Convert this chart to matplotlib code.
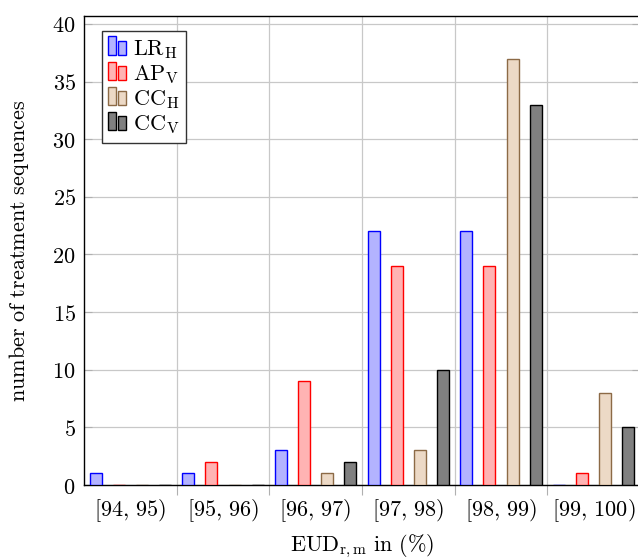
import matplotlib
matplotlib.use("Agg")
import matplotlib.pyplot as plt
from matplotlib.patches import Rectangle
from matplotlib.legend_handler import HandlerBase
import numpy as np

plt.rcParams['mathtext.fontset'] = 'cm'
plt.rcParams['font.family'] = 'serif'
plt.rcParams['font.serif'] = ['DejaVu Serif']

categories = ['[94, 95)', '[95, 96)', '[96, 97)', '[97, 98)', '[98, 99)', '[99, 100)']
series_names = [r'$\mathrm{LR_H}$', r'$\mathrm{AP_V}$', r'$\mathrm{CC_H}$', r'$\mathrm{CC_V}$']
lr_h = [1, 1, 3, 22, 22, 0]
ap_v = [0, 2, 9, 19, 19, 1]
cc_h = [0, 0, 1, 3, 37, 8]
cc_v = [0, 0, 2, 10, 33, 5]
y_ticks = [0, 5, 10, 15, 20, 25, 30, 35, 40]

fills = ['#b3b3ff', '#ffb3b3', '#ecd9c6', '#808080']
edges = ['#0000ff', '#ff0000', '#8c6a46', '#000000']
FS = 16


class TwoBarHandler(HandlerBase):
    def create_artists(self, legend, orig_handle, xdescent, ydescent,
                       width, height, fontsize, trans):
        fc = orig_handle.get_facecolor()
        ec = orig_handle.get_edgecolor()
        w = width * 0.4
        r1 = Rectangle((-xdescent, -ydescent), w, height * 1.2,
                       facecolor=fc, edgecolor=ec, lw=1.0, transform=trans)
        r2 = Rectangle((-xdescent + w * 1.4, -ydescent), w, height * 0.9,
                       facecolor=fc, edgecolor=ec, lw=1.0, transform=trans)
        return [r1, r2]


fig = plt.figure(figsize=(6.38, 5.59), dpi=100)
ax = fig.add_axes([84 / 638, 1 - 485 / 559, 556 / 638, 469 / 559])

centers = 94.5 + np.arange(len(categories))
offsets = [-0.375, -0.125, 0.125, 0.375]
handles = []
for vals, off, fc, ec, name in zip([lr_h, ap_v, cc_h, cc_v], offsets, fills, edges, series_names):
    b = ax.bar(centers + off, vals, width=0.13, color=fc, edgecolor=ec, linewidth=1.0,
               zorder=3, label=name)
    handles.append(b.patches[0])

ax.set_xlim(94, 100)
ax.set_ylim(0, 40.69)

# boundaries as major ticks (grid), labels at centres
ax.set_xticks(np.arange(95, 100))
ax.set_xticklabels([])
ax.set_xticks(centers, minor=True)
ax.set_xticklabels([r'$' + c.replace(', ', r',\,') + r'$' for c in categories],
                   minor=True, fontsize=FS)
ax.tick_params(axis='x', which='minor', length=0, pad=9)
ax.tick_params(axis='x', which='major', direction='out', length=7, color='#b0b0b0')

ax.set_yticks(y_ticks)
ax.set_yticklabels([r'$%d$' % t for t in y_ticks], fontsize=FS)
ax.tick_params(axis='y', direction='in', length=6, color='#b0b0b0', right=True, pad=6)

ax.grid(True, which='major', color='#c8c8c8', linewidth=0.9, zorder=0)
ax.set_axisbelow(True)
for s in ax.spines.values():
    s.set_linewidth(1.0)

ax.set_xlabel(r'$\mathrm{EUD_{r,m}\ in\ (\%)}$', fontsize=FS, labelpad=6)
ax.set_ylabel(r'$\mathrm{number\ of\ treatment\ sequences}$', fontsize=FS, labelpad=15)

leg = ax.legend(handles, series_names, loc='upper left', bbox_to_anchor=(0.032, 0.967),
                fontsize=FS, fancybox=False, framealpha=1, edgecolor='#333333',
                handler_map={h: TwoBarHandler() for h in handles},
                handlelength=0.8, handletextpad=0.3, labelspacing=0.1,
                borderpad=0.3, borderaxespad=0)
leg.get_frame().set_linewidth(1.0)

fig.savefig('out.png', dpi=100)
